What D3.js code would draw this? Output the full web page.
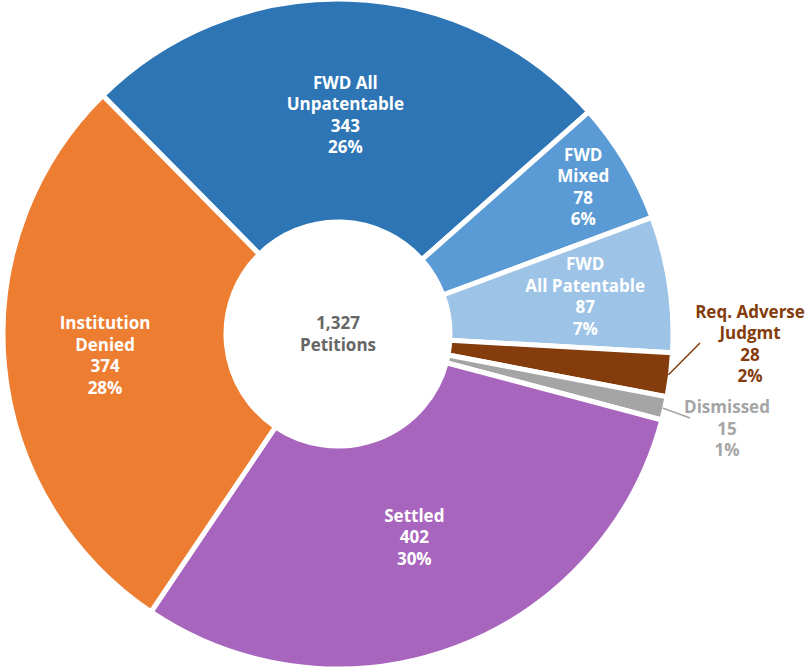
<!DOCTYPE html>
<html>
<head>
<meta charset="UTF-8">
<title></title>
<style>
  body { margin: 0; background: #fff; }
  text { font-family: "Open Sans", "Noto Sans", sans-serif; font-weight: 700; }
</style>
</head>
<body>
<script src="https://cdn.jsdelivr.net/npm/d3@7/dist/d3.min.js"></script>
<script>
// data
var categories = ["FWD All|Unpatentable", "FWD|Mixed", "FWD|All Patentable", "Req. Adverse|Judgmt", "Dismissed", "Settled", "Institution|Denied"];
var counts = [343, 78, 87, 28, 15, 402, 374];
var totalLabel = "1,327|Petitions";

var width = 808, height = 668;
var cx = 338, cy = 334;
var outerR = 335, innerR = 112;

var colors = ["#2E75B6", "#5B9BD5", "#9DC3E6", "#843C0C", "#A5A5A5", "#A865BD", "#ED7D31"];
// label placement: radius for inside labels, null = outside label
var labelR = [219, 286, 250, null, null, 217, 234];

var svg = d3.select("body").append("svg")
    .attr("width", width)
    .attr("height", height);

var g = svg.append("g").attr("transform", "translate(" + cx + "," + cy + ")");

var total = d3.sum(counts);
var startA = -44.6 * Math.PI / 180;

var pie = d3.pie()
    .sort(null)
    .startAngle(startA)
    .endAngle(startA + 2 * Math.PI);

var arcs = pie(counts);

var arc = d3.arc().innerRadius(innerR).outerRadius(outerR);

g.selectAll("path")
    .data(arcs)
    .join("path")
    .attr("d", arc)
    .attr("fill", (d, i) => colors[i])
    .attr("stroke", "#fff")
    .attr("stroke-width", 5)
    .attr("stroke-linejoin", "miter");

var fontSize = 17, lineH = 21.5;

function labelLines(i) {
    var lines = categories[i].split("|");
    lines.push(counts[i]);
    lines.push(Math.round(counts[i] / total * 100) + "%");
    return lines;
}

function drawBlock(x, y, lines, color) {
    var t = g.append("text")
        .attr("text-anchor", "middle")
        .attr("fill", color)
        .attr("font-size", fontSize);
    var y0 = y - (lines.length - 1) * lineH / 2;
    lines.forEach(function (l, k) {
        t.append("tspan")
            .attr("x", x)
            .attr("y", y0 + k * lineH)
            .attr("dy", "0.35em")
            .text(l);
    });
}

arcs.forEach(function (d, i) {
    var mid = (d.startAngle + d.endAngle) / 2;
    if (labelR[i] != null) {
        var r = labelR[i];
        drawBlock(r * Math.sin(mid), -r * Math.cos(mid), labelLines(i), "#fff");
    }
});

// outside labels with leader lines
var outside = [
    { i: 3, lineEnd: [362, 9], pos: [412, 10] },
    { i: 4, lineEnd: [352, 84], pos: [389, 95] }
];
outside.forEach(function (o) {
    var d = arcs[o.i];
    var mid = (d.startAngle + d.endAngle) / 2;
    var px = (outerR - 2) * Math.sin(mid), py = -(outerR - 2) * Math.cos(mid);
    g.append("line")
        .attr("x1", px).attr("y1", py)
        .attr("x2", o.lineEnd[0]).attr("y2", o.lineEnd[1])
        .attr("stroke", colors[o.i])
        .attr("stroke-width", 1.5);
    drawBlock(o.pos[0], o.pos[1], labelLines(o.i), colors[o.i]);
});

// center
drawBlock(0, 0, totalLabel.split("|"), "#666666");
</script>
</body>
</html>
